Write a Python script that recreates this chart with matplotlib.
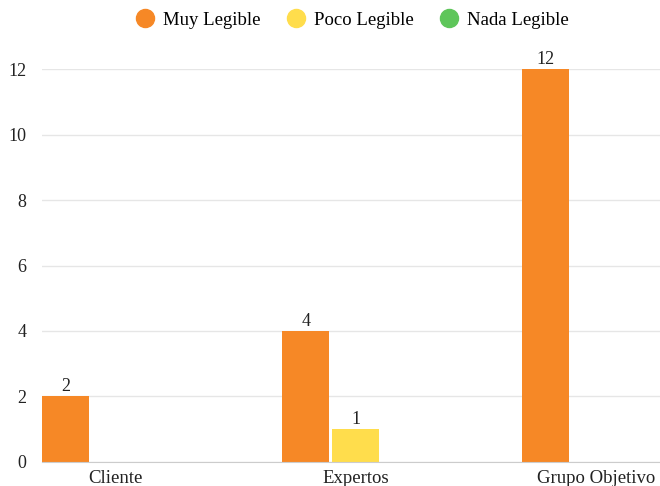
import numpy as np
import matplotlib
matplotlib.use('Agg')
import matplotlib.pyplot as plt
from matplotlib.lines import Line2D

plt.rcParams['font.family'] = ['Liberation Serif', 'DejaVu Serif']

categorias = ["Cliente", "Expertos", "Grupo Objetivo"]
series = ["Muy Legible", "Poco Legible", "Nada Legible"]
muy_legible = [2, 4, 12]
poco_legible = [0, 1, 0]
nada_legible = [0, 0, 0]
colores = ["#F68826", "#FFDD4C", "#5EC65A"]

valores = [muy_legible, poco_legible, nada_legible]

fig = plt.figure(figsize=(6.6, 4.86), dpi=100)
ax = fig.add_axes([42/660, 0.05, 1 - 42/660, 0.807])

x = np.arange(len(categorias))
ancho = 47/240
paso = 50/240

for i, (nombre, vals, col) in enumerate(zip(series, valores, colores)):
    pos = x + (i - 1) * paso
    barras = ax.bar(pos, vals, width=ancho, color=col, label=nombre, zorder=3)
    etiquetas = [str(v) if v > 0 else "" for v in vals]
    ax.bar_label(barras, labels=etiquetas, padding=1, fontsize=13, color="#222222")

ax.set_xlim(-0.308, 2.267)
ax.set_ylim(0, 12)
ax.set_yticks([0, 2, 4, 6, 8, 10, 12])
ax.set_xticks(x)
ax.set_xticklabels(categorias)
ax.tick_params(axis='both', length=0, colors="#222222")
ax.tick_params(axis='y', pad=11, labelsize=13)
ax.tick_params(axis='x', pad=6, labelsize=13.5)
ax.grid(axis='y', color="#e6e6e6", linewidth=1, zorder=0)
for lado in ['top', 'right', 'left']:
    ax.spines[lado].set_visible(False)
ax.spines['bottom'].set_color("#cccccc")
ax.spines['bottom'].set_zorder(4)

marcas = [Line2D([], [], marker='o', linestyle='', markersize=13,
                 markerfacecolor=c, markeredgecolor=c) for c in colores]
fig.legend(marcas, series, loc='center', bbox_to_anchor=(352/660, 1 - 20/486),
           ncol=3, frameon=False, fontsize=13.5, handletextpad=0.45,
           columnspacing=1.4, handlelength=1.0, borderpad=0)

fig.savefig("out.png", dpi=100)
